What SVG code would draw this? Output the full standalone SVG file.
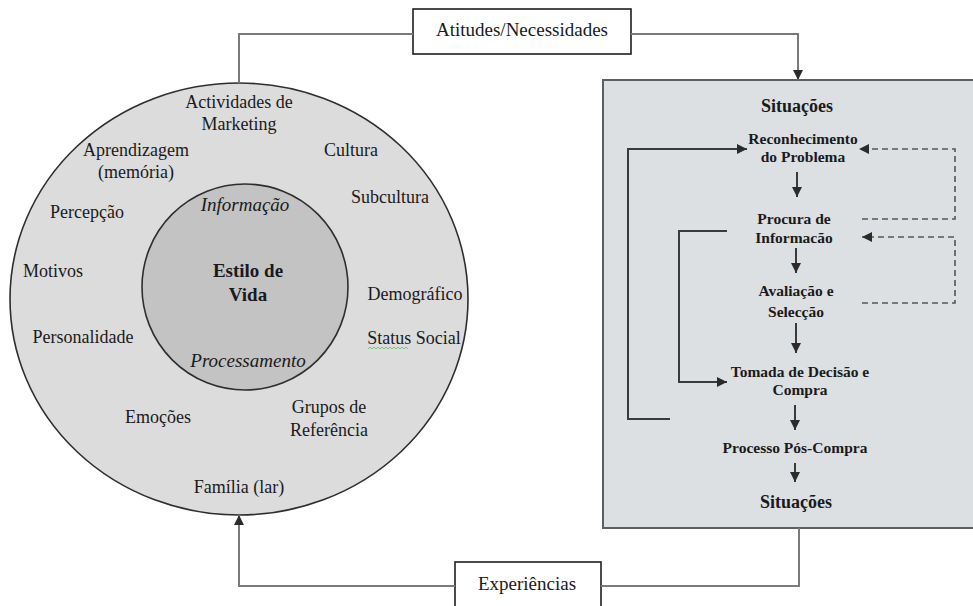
<svg xmlns="http://www.w3.org/2000/svg" width="973" height="606" viewBox="0 0 973 606">
<defs>
<marker id="ah" markerUnits="userSpaceOnUse" markerWidth="11" markerHeight="11" refX="10" refY="5" orient="auto">
<path d="M0,0 L10,5 L0,10 z" fill="#2b2b2b"/>
</marker>
<style>
text{font-family:"Liberation Serif","Times New Roman",serif;fill:#1a1a1a;text-anchor:middle}
.ring{font-size:18px}
.it{font-size:19px;font-style:italic}
.core{font-size:19px;font-weight:bold}
.lbl{font-size:19px}
.step{font-size:15.5px;font-weight:bold}
.sit{font-size:18px;font-weight:bold}
.conn{fill:none;stroke:#7a7a7a;stroke-width:2}
.flow{fill:none;stroke:#3a3a3a;stroke-width:2}
.dash{fill:none;stroke:#555;stroke-width:1.6;stroke-dasharray:6 4}
</style>
</defs>
<rect width="973" height="606" fill="#ffffff"/>

<g id="ring">
<ellipse cx="239" cy="299" rx="229" ry="216" fill="#dcdcdc" stroke="#2e2e2e" stroke-width="1.6"/>
<text class="ring" x="239" y="108">Actividades de</text>
<text class="ring" x="239" y="130">Marketing</text>
<text class="ring" x="136" y="156">Aprendizagem</text>
<text class="ring" x="136" y="178">(memória)</text>
<text class="ring" x="351" y="156">Cultura</text>
<text class="ring" x="390" y="203">Subcultura</text>
<text class="ring" x="87" y="218">Percepção</text>
<text class="ring" x="53" y="277">Motivos</text>
<text class="ring" x="415" y="300">Demográfico</text>
<text class="ring" x="83" y="343">Personalidade</text>
<text class="ring" x="414" y="344">Status Social</text>
<path d="M368,349 l2,-2 l2,2 l2,-2 l2,2 l2,-2 l2,2 l2,-2 l2,2 l2,-2 l2,2 l2,-2 l2,2 l2,-2 l2,2 l2,-2 l2,2 l2,-2 l2,2 l2,-2 l2,2" fill="none" stroke="#7ac77a" stroke-width="1"/>
<text class="ring" x="158" y="423">Emoções</text>
<text class="ring" x="329" y="413">Grupos de</text>
<text class="ring" x="329" y="436">Referência</text>
<text class="ring" x="239" y="493">Família (lar)</text>
</g>

<g id="core">
<circle cx="245" cy="287" r="103" fill="#c3c3c3" stroke="#2e2e2e" stroke-width="1.6"/>
<text class="it" x="245" y="211">Informação</text>
<text class="core" x="248" y="277">Estilo de</text>
<text class="core" x="248" y="301">Vida</text>
<text class="it" x="248" y="367">Processamento</text>
</g>

<g id="atitudes">
<rect x="413" y="9" width="218" height="45" fill="#ffffff" stroke="#1e1e1e" stroke-width="1.6"/>
<text class="lbl" x="522" y="36">Atitudes/Necessidades</text>
</g>

<g id="experiencias">
<rect x="455" y="562" width="146" height="50" fill="#ffffff" stroke="#1e1e1e" stroke-width="1.6"/>
<text class="lbl" x="527" y="590">Experiências</text>
</g>

<g id="processo">
<rect x="603" y="80" width="380" height="448" fill="#dde0e3" stroke="#5e5e5e" stroke-width="2"/>
<text class="sit" x="797" y="112">Situações</text>
<text class="step" x="803" y="144">Reconhecimento</text>
<text class="step" x="803" y="162">do Problema</text>
<text class="step" x="794" y="224">Procura de</text>
<text class="step" x="794" y="243">Informacão</text>
<text class="step" x="796" y="296">Avaliação e</text>
<text class="step" x="796" y="317">Selecção</text>
<text class="step" x="800" y="377">Tomada de Decisão e</text>
<text class="step" x="800" y="395">Compra</text>
<text class="step" x="795" y="453">Processo Pós-Compra</text>
<text class="sit" x="796" y="508">Situações</text>
</g>

<g id="connectors">
<path class="conn" d="M239,83 V34 H413"/>
<path class="conn" d="M631,34 H798 V80" marker-end="url(#ah)"/>
<path class="conn" d="M799,528 V586 H601"/>
<path class="conn" d="M455,586 H239 V515" marker-end="url(#ah)"/>
<line class="flow" x1="797" y1="172" x2="797" y2="197" marker-end="url(#ah)"/>
<line class="flow" x1="796" y1="248" x2="796" y2="273" marker-end="url(#ah)"/>
<line class="flow" x1="796" y1="323" x2="796" y2="353" marker-end="url(#ah)"/>
<line class="flow" x1="795" y1="405" x2="795" y2="430" marker-end="url(#ah)"/>
<line class="flow" x1="795" y1="463" x2="795" y2="482" marker-end="url(#ah)"/>
<path class="flow" d="M670,419 H628 V149 H747" marker-end="url(#ah)"/>
<path class="flow" d="M727,231 H679 V382 H727" marker-end="url(#ah)"/>
<path class="dash" d="M862,219 H955 V149 H859" marker-end="url(#ah)"/>
<path class="dash" d="M862,303 H955 V237 H862" marker-end="url(#ah)"/>
</g>
</svg>
